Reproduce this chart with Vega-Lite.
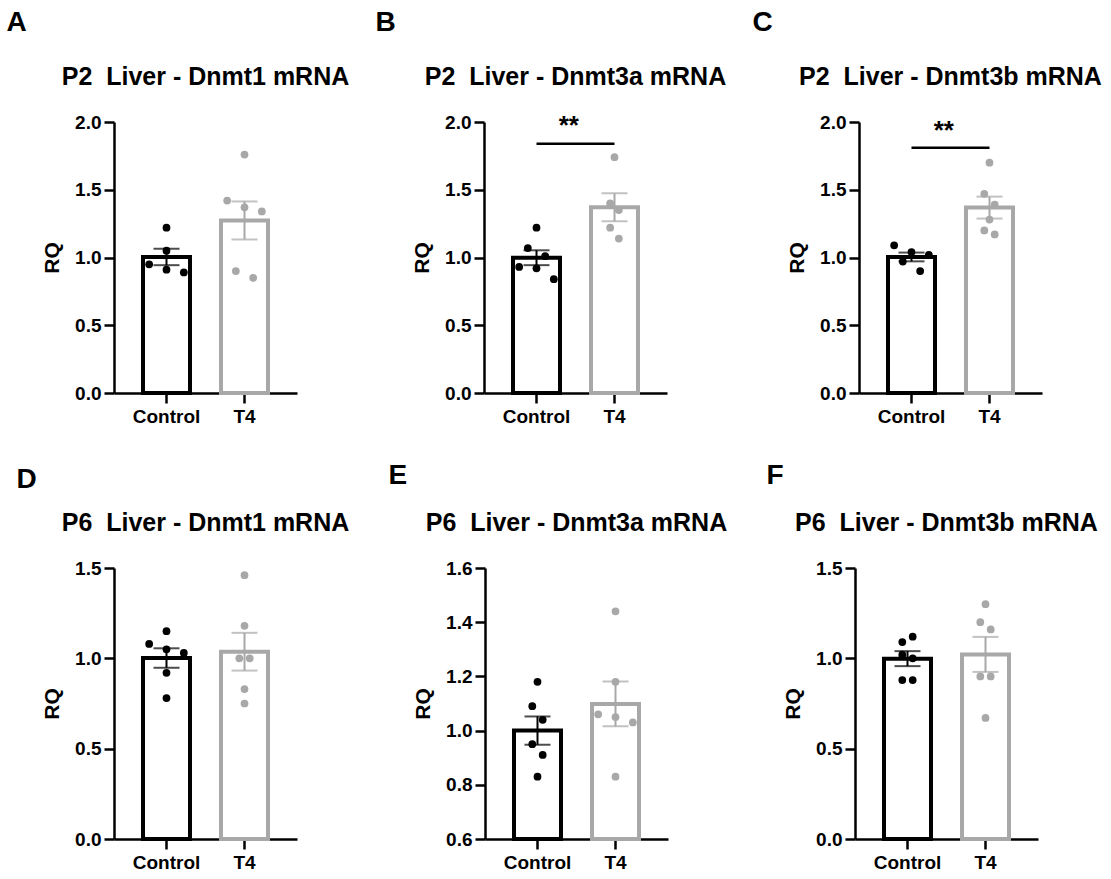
{
  "$schema": "https://vega.github.io/schema/vega-lite/v6.json",
  "background": "white",
  "padding": {"left": 6, "top": 8, "right": 2, "bottom": 2},
  "config": {
    "font": "Liberation Sans",
    "view": {"stroke": null},
    "title": {"font": "Liberation Sans", "fontSize": 25, "fontWeight": "bold", "color": "black", "offset": 23},
    "axis": {"domainColor": "black", "domainWidth": 2.5, "tickColor": "black", "tickWidth": 2.5, "tickSize": 10, "labelFont": "Liberation Sans", "labelFontSize": 19, "labelFontWeight": "bold", "labelColor": "black", "titleFont": "Liberation Sans", "titleFontSize": 21, "titleFontWeight": "bold", "titleColor": "black", "grid": false},
    "axisX": {"labelAngle": 0, "labelPadding": 4},
    "axisY": {"labelPadding": 3, "titlePadding": 12}
  },
  "vconcat": [
    {
      "hconcat": [
        {
          "title": {"text": "A", "anchor": "start", "frame": "bounds", "fontSize": 28, "dx": -35, "offset": 28},
          "vconcat": [{
            "title": {"text": "P2\u00a0 Liver - Dnmt1 mRNA"},
            "width": 183, "height": 271,
            "data": {"name": "a"},
            "resolve": {"scale": {"x": "independent", "xOffset": "independent"}},
            "layer": [
              {"mark": {"type": "bar", "fill": "white", "strokeWidth": 4, "width": 47},
               "encoding": {"x": {"field": "group", "type": "nominal", "title": null, "scale": {"domain": ["Control", "T4"], "paddingInner": 0.4, "paddingOuter": 0.373}},
                            "y": {"aggregate": "mean", "field": "v", "type": "quantitative", "title": "RQ", "scale": {"domain": [0, 2], "nice": false}, "axis": {"values": [0, 0.5, 1, 1.5, 2], "format": ".1f"}},
                            "stroke": {"field": "group", "type": "nominal", "scale": {"domain": ["Control", "T4"], "range": ["#000000", "#a8a8a8"]}, "legend": null}}},
              {"mark": {"type": "errorbar", "extent": "stderr", "thickness": 2, "ticks": {"size": 26}},
               "encoding": {"x": {"field": "group", "type": "nominal", "axis": null, "scale": {"domain": ["Control", "T4"], "paddingInner": 0.4, "paddingOuter": 0.373}},
                            "y": {"field": "v", "type": "quantitative", "title": "RQ"},
                            "color": {"field": "group", "type": "nominal", "scale": {"domain": ["Control", "T4"], "range": ["#000000", "#a8a8a8"]}, "legend": null}}},
              {"mark": {"type": "circle", "size": 60, "opacity": 1},
               "encoding": {"x": {"field": "group", "type": "nominal", "axis": null, "scale": {"domain": ["Control", "T4"], "paddingInner": 0.4, "paddingOuter": 0.373}},
                            "xOffset": {"field": "slot", "type": "quantitative", "scale": {"domain": [-3, 3], "range": [-2.6, 49.4]}},
                            "y": {"field": "v", "type": "quantitative", "title": "RQ"},
                            "color": {"field": "group", "type": "nominal", "scale": {"domain": ["Control", "T4"], "range": ["#000000", "#a8a8a8"]}, "legend": null}}}
            ]
          }]
        },
        {
          "title": {"text": "B", "anchor": "start", "frame": "bounds", "fontSize": 28, "dx": -36, "offset": 28},
          "vconcat": [{
            "title": {"text": "P2\u00a0 Liver - Dnmt3a mRNA"},
            "width": 183, "height": 271,
            "data": {"name": "b"},
            "resolve": {"scale": {"x": "independent", "xOffset": "independent"}},
            "layer": [
              {"mark": {"type": "bar", "fill": "white", "strokeWidth": 4, "width": 47},
               "encoding": {"x": {"field": "group", "type": "nominal", "title": null, "scale": {"domain": ["Control", "T4"], "paddingInner": 0.4, "paddingOuter": 0.373}},
                            "y": {"aggregate": "mean", "field": "v", "type": "quantitative", "title": "RQ", "scale": {"domain": [0, 2], "nice": false}, "axis": {"values": [0, 0.5, 1, 1.5, 2], "format": ".1f"}},
                            "stroke": {"field": "group", "type": "nominal", "scale": {"domain": ["Control", "T4"], "range": ["#000000", "#a8a8a8"]}, "legend": null}}},
              {"mark": {"type": "errorbar", "extent": "stderr", "thickness": 2, "ticks": {"size": 26}},
               "encoding": {"x": {"field": "group", "type": "nominal", "axis": null, "scale": {"domain": ["Control", "T4"], "paddingInner": 0.4, "paddingOuter": 0.373}},
                            "y": {"field": "v", "type": "quantitative", "title": "RQ"},
                            "color": {"field": "group", "type": "nominal", "scale": {"domain": ["Control", "T4"], "range": ["#000000", "#a8a8a8"]}, "legend": null}}},
              {"mark": {"type": "circle", "size": 60, "opacity": 1},
               "encoding": {"x": {"field": "group", "type": "nominal", "axis": null, "scale": {"domain": ["Control", "T4"], "paddingInner": 0.4, "paddingOuter": 0.373}},
                            "xOffset": {"field": "slot", "type": "quantitative", "scale": {"domain": [-3, 3], "range": [-2.6, 49.4]}},
                            "y": {"field": "v", "type": "quantitative", "title": "RQ"},
                            "color": {"field": "group", "type": "nominal", "scale": {"domain": ["Control", "T4"], "range": ["#000000", "#a8a8a8"]}, "legend": null}}},
              {"data": {"values": [{"a": "Control", "b": "T4", "y": 1.84, "label": "**"}]},
               "mark": {"type": "rule", "color": "black", "strokeWidth": 2.5},
               "encoding": {"x": {"field": "a", "type": "nominal", "axis": null, "scale": {"domain": ["Control", "T4"], "paddingInner": 0.4, "paddingOuter": 0.373}}, "x2": {"field": "b"}, "y": {"field": "y", "type": "quantitative", "title": "RQ"}}},
              {"data": {"values": [{"a": "Control", "b": "T4", "y": 1.84, "label": "**"}]},
               "mark": {"type": "text", "color": "black", "fontSize": 26, "fontWeight": "bold", "align": "center", "baseline": "alphabetic", "dx": 39, "dy": -10},
               "encoding": {"x": {"field": "a", "type": "nominal", "axis": null, "scale": {"domain": ["Control", "T4"], "paddingInner": 0.4, "paddingOuter": 0.373}}, "y": {"field": "y", "type": "quantitative", "title": "RQ"}, "text": {"field": "label"}}}
            ]
          }]
        },
        {
          "title": {"text": "C", "anchor": "start", "frame": "bounds", "fontSize": 28, "dx": -34, "offset": 28},
          "vconcat": [{
            "title": {"text": "P2\u00a0 Liver - Dnmt3b mRNA"},
            "width": 183, "height": 271,
            "data": {"name": "c"},
            "resolve": {"scale": {"x": "independent", "xOffset": "independent"}},
            "layer": [
              {"mark": {"type": "bar", "fill": "white", "strokeWidth": 4, "width": 47},
               "encoding": {"x": {"field": "group", "type": "nominal", "title": null, "scale": {"domain": ["Control", "T4"], "paddingInner": 0.4, "paddingOuter": 0.373}},
                            "y": {"aggregate": "mean", "field": "v", "type": "quantitative", "title": "RQ", "scale": {"domain": [0, 2], "nice": false}, "axis": {"values": [0, 0.5, 1, 1.5, 2], "format": ".1f"}},
                            "stroke": {"field": "group", "type": "nominal", "scale": {"domain": ["Control", "T4"], "range": ["#000000", "#a8a8a8"]}, "legend": null}}},
              {"mark": {"type": "errorbar", "extent": "stderr", "thickness": 2, "ticks": {"size": 26}},
               "encoding": {"x": {"field": "group", "type": "nominal", "axis": null, "scale": {"domain": ["Control", "T4"], "paddingInner": 0.4, "paddingOuter": 0.373}},
                            "y": {"field": "v", "type": "quantitative", "title": "RQ"},
                            "color": {"field": "group", "type": "nominal", "scale": {"domain": ["Control", "T4"], "range": ["#000000", "#a8a8a8"]}, "legend": null}}},
              {"mark": {"type": "circle", "size": 60, "opacity": 1},
               "encoding": {"x": {"field": "group", "type": "nominal", "axis": null, "scale": {"domain": ["Control", "T4"], "paddingInner": 0.4, "paddingOuter": 0.373}},
                            "xOffset": {"field": "slot", "type": "quantitative", "scale": {"domain": [-3, 3], "range": [-2.6, 49.4]}},
                            "y": {"field": "v", "type": "quantitative", "title": "RQ"},
                            "color": {"field": "group", "type": "nominal", "scale": {"domain": ["Control", "T4"], "range": ["#000000", "#a8a8a8"]}, "legend": null}}},
              {"data": {"values": [{"a": "Control", "b": "T4", "y": 1.81, "label": "**"}]},
               "mark": {"type": "rule", "color": "black", "strokeWidth": 2.5},
               "encoding": {"x": {"field": "a", "type": "nominal", "axis": null, "scale": {"domain": ["Control", "T4"], "paddingInner": 0.4, "paddingOuter": 0.373}}, "x2": {"field": "b"}, "y": {"field": "y", "type": "quantitative", "title": "RQ"}}},
              {"data": {"values": [{"a": "Control", "b": "T4", "y": 1.81, "label": "**"}]},
               "mark": {"type": "text", "color": "black", "fontSize": 26, "fontWeight": "bold", "align": "center", "baseline": "alphabetic", "dx": 39, "dy": -9},
               "encoding": {"x": {"field": "a", "type": "nominal", "axis": null, "scale": {"domain": ["Control", "T4"], "paddingInner": 0.4, "paddingOuter": 0.373}}, "y": {"field": "y", "type": "quantitative", "title": "RQ"}, "text": {"field": "label"}}}
            ]
          }]
        }
      ],
      "spacing": 25
    },
    {
      "hconcat": [
        {
          "title": {"text": "D", "anchor": "start", "frame": "bounds", "fontSize": 28, "dx": -25, "offset": 17},
          "vconcat": [{
            "title": {"text": "P6\u00a0 Liver - Dnmt1 mRNA"},
            "width": 183, "height": 271,
            "data": {"name": "d"},
            "resolve": {"scale": {"x": "independent", "xOffset": "independent"}},
            "layer": [
              {"mark": {"type": "bar", "fill": "white", "strokeWidth": 4, "width": 47},
               "encoding": {"x": {"field": "group", "type": "nominal", "title": null, "scale": {"domain": ["Control", "T4"], "paddingInner": 0.4, "paddingOuter": 0.373}},
                            "y": {"aggregate": "mean", "field": "v", "type": "quantitative", "title": "RQ", "scale": {"domain": [0, 1.5], "nice": false}, "axis": {"values": [0, 0.5, 1, 1.5], "format": ".1f"}},
                            "stroke": {"field": "group", "type": "nominal", "scale": {"domain": ["Control", "T4"], "range": ["#000000", "#a8a8a8"]}, "legend": null}}},
              {"mark": {"type": "errorbar", "extent": "stderr", "thickness": 2, "ticks": {"size": 26}},
               "encoding": {"x": {"field": "group", "type": "nominal", "axis": null, "scale": {"domain": ["Control", "T4"], "paddingInner": 0.4, "paddingOuter": 0.373}},
                            "y": {"field": "v", "type": "quantitative", "title": "RQ"},
                            "color": {"field": "group", "type": "nominal", "scale": {"domain": ["Control", "T4"], "range": ["#000000", "#a8a8a8"]}, "legend": null}}},
              {"mark": {"type": "circle", "size": 60, "opacity": 1},
               "encoding": {"x": {"field": "group", "type": "nominal", "axis": null, "scale": {"domain": ["Control", "T4"], "paddingInner": 0.4, "paddingOuter": 0.373}},
                            "xOffset": {"field": "slot", "type": "quantitative", "scale": {"domain": [-3, 3], "range": [-2.6, 49.4]}},
                            "y": {"field": "v", "type": "quantitative", "title": "RQ"},
                            "color": {"field": "group", "type": "nominal", "scale": {"domain": ["Control", "T4"], "range": ["#000000", "#a8a8a8"]}, "legend": null}}}
            ]
          }]
        },
        {
          "title": {"text": "E", "anchor": "start", "frame": "bounds", "fontSize": 28, "dx": -24, "offset": 21},
          "vconcat": [{
            "title": {"text": "P6\u00a0 Liver - Dnmt3a mRNA"},
            "width": 183, "height": 271,
            "data": {"name": "e"},
            "resolve": {"scale": {"x": "independent", "xOffset": "independent"}},
            "layer": [
              {"mark": {"type": "bar", "fill": "white", "strokeWidth": 4, "width": 47},
               "encoding": {"x": {"field": "group", "type": "nominal", "title": null, "scale": {"domain": ["Control", "T4"], "paddingInner": 0.4, "paddingOuter": 0.373}},
                            "y": {"aggregate": "mean", "field": "v", "type": "quantitative", "title": "RQ", "scale": {"domain": [0.6, 1.6], "zero": false, "nice": false}, "axis": {"values": [0.6, 0.8, 1.0, 1.2, 1.4, 1.6], "format": ".1f"}},
                            "y2": {"datum": 0.6},
                            "stroke": {"field": "group", "type": "nominal", "scale": {"domain": ["Control", "T4"], "range": ["#000000", "#a8a8a8"]}, "legend": null}}},
              {"mark": {"type": "errorbar", "extent": "stderr", "thickness": 2, "ticks": {"size": 26}},
               "encoding": {"x": {"field": "group", "type": "nominal", "axis": null, "scale": {"domain": ["Control", "T4"], "paddingInner": 0.4, "paddingOuter": 0.373}},
                            "y": {"field": "v", "type": "quantitative", "title": "RQ"},
                            "color": {"field": "group", "type": "nominal", "scale": {"domain": ["Control", "T4"], "range": ["#000000", "#a8a8a8"]}, "legend": null}}},
              {"mark": {"type": "circle", "size": 60, "opacity": 1},
               "encoding": {"x": {"field": "group", "type": "nominal", "axis": null, "scale": {"domain": ["Control", "T4"], "paddingInner": 0.4, "paddingOuter": 0.373}},
                            "xOffset": {"field": "slot", "type": "quantitative", "scale": {"domain": [-3, 3], "range": [-2.6, 49.4]}},
                            "y": {"field": "v", "type": "quantitative", "title": "RQ"},
                            "color": {"field": "group", "type": "nominal", "scale": {"domain": ["Control", "T4"], "range": ["#000000", "#a8a8a8"]}, "legend": null}}}
            ]
          }]
        },
        {
          "title": {"text": "F", "anchor": "start", "frame": "bounds", "fontSize": 28, "dx": -16, "offset": 21},
          "vconcat": [{
            "title": {"text": "P6\u00a0 Liver - Dnmt3b mRNA"},
            "width": 183, "height": 271,
            "data": {"name": "f"},
            "resolve": {"scale": {"x": "independent", "xOffset": "independent"}},
            "layer": [
              {"mark": {"type": "bar", "fill": "white", "strokeWidth": 4, "width": 47},
               "encoding": {"x": {"field": "group", "type": "nominal", "title": null, "scale": {"domain": ["Control", "T4"], "paddingInner": 0.4, "paddingOuter": 0.373}},
                            "y": {"aggregate": "mean", "field": "v", "type": "quantitative", "title": "RQ", "scale": {"domain": [0, 1.5], "nice": false}, "axis": {"values": [0, 0.5, 1, 1.5], "format": ".1f"}},
                            "stroke": {"field": "group", "type": "nominal", "scale": {"domain": ["Control", "T4"], "range": ["#000000", "#a8a8a8"]}, "legend": null}}},
              {"mark": {"type": "errorbar", "extent": "stderr", "thickness": 2, "ticks": {"size": 26}},
               "encoding": {"x": {"field": "group", "type": "nominal", "axis": null, "scale": {"domain": ["Control", "T4"], "paddingInner": 0.4, "paddingOuter": 0.373}},
                            "y": {"field": "v", "type": "quantitative", "title": "RQ"},
                            "color": {"field": "group", "type": "nominal", "scale": {"domain": ["Control", "T4"], "range": ["#000000", "#a8a8a8"]}, "legend": null}}},
              {"mark": {"type": "circle", "size": 60, "opacity": 1},
               "encoding": {"x": {"field": "group", "type": "nominal", "axis": null, "scale": {"domain": ["Control", "T4"], "paddingInner": 0.4, "paddingOuter": 0.373}},
                            "xOffset": {"field": "slot", "type": "quantitative", "scale": {"domain": [-3, 3], "range": [-2.6, 49.4]}},
                            "y": {"field": "v", "type": "quantitative", "title": "RQ"},
                            "color": {"field": "group", "type": "nominal", "scale": {"domain": ["Control", "T4"], "range": ["#000000", "#a8a8a8"]}, "legend": null}}}
            ]
          }]
        }
      ],
      "spacing": 38
    }
  ],
  "spacing": 36,
  "datasets": {
    "a": [
      {"group": "Control", "slot": 0, "v": 1.22}, {"group": "Control", "slot": 0, "v": 1.05}, {"group": "Control", "slot": -2, "v": 0.95}, {"group": "Control", "slot": 0, "v": 0.91}, {"group": "Control", "slot": 2, "v": 0.89},
      {"group": "T4", "slot": 0, "v": 1.76}, {"group": "T4", "slot": -2, "v": 1.42}, {"group": "T4", "slot": 0, "v": 1.37}, {"group": "T4", "slot": 2, "v": 1.34}, {"group": "T4", "slot": -1, "v": 0.90}, {"group": "T4", "slot": 1, "v": 0.85}
    ],
    "b": [
      {"group": "Control", "slot": 0, "v": 1.22}, {"group": "Control", "slot": -1, "v": 1.07}, {"group": "Control", "slot": 1, "v": 1.01}, {"group": "Control", "slot": -2, "v": 0.93}, {"group": "Control", "slot": 0, "v": 0.92}, {"group": "Control", "slot": 2, "v": 0.84},
      {"group": "T4", "slot": 0, "v": 1.74}, {"group": "T4", "slot": -0.5, "v": 1.40}, {"group": "T4", "slot": 0.5, "v": 1.35}, {"group": "T4", "slot": -0.5, "v": 1.22}, {"group": "T4", "slot": 0.5, "v": 1.14}
    ],
    "c": [
      {"group": "Control", "slot": -2, "v": 1.09}, {"group": "Control", "slot": 0, "v": 1.04}, {"group": "Control", "slot": 2, "v": 1.02}, {"group": "Control", "slot": -1, "v": 0.97}, {"group": "Control", "slot": 1, "v": 0.90},
      {"group": "T4", "slot": 0, "v": 1.70}, {"group": "T4", "slot": -0.6, "v": 1.47}, {"group": "T4", "slot": 0.6, "v": 1.39}, {"group": "T4", "slot": 0, "v": 1.28}, {"group": "T4", "slot": -0.6, "v": 1.20}, {"group": "T4", "slot": 0.6, "v": 1.17}
    ],
    "d": [
      {"group": "Control", "slot": 0, "v": 1.15}, {"group": "Control", "slot": -2, "v": 1.08}, {"group": "Control", "slot": 0, "v": 1.05}, {"group": "Control", "slot": 2, "v": 1.03}, {"group": "Control", "slot": 0, "v": 0.92}, {"group": "Control", "slot": 0, "v": 0.78},
      {"group": "T4", "slot": 0, "v": 1.46}, {"group": "T4", "slot": 0, "v": 1.18}, {"group": "T4", "slot": -0.6, "v": 1.00}, {"group": "T4", "slot": 0.6, "v": 1.00}, {"group": "T4", "slot": 0, "v": 0.83}, {"group": "T4", "slot": 0, "v": 0.75}
    ],
    "e": [
      {"group": "Control", "slot": 0, "v": 1.18}, {"group": "Control", "slot": -0.6, "v": 1.09}, {"group": "Control", "slot": 0.6, "v": 1.04}, {"group": "Control", "slot": -0.6, "v": 0.95}, {"group": "Control", "slot": 0.6, "v": 0.91}, {"group": "Control", "slot": 0, "v": 0.83},
      {"group": "T4", "slot": 0, "v": 1.44}, {"group": "T4", "slot": 0, "v": 1.18}, {"group": "T4", "slot": -2, "v": 1.06}, {"group": "T4", "slot": 0, "v": 1.05}, {"group": "T4", "slot": 2, "v": 1.03}, {"group": "T4", "slot": 0, "v": 0.83}
    ],
    "f": [
      {"group": "Control", "slot": -0.6, "v": 1.09}, {"group": "Control", "slot": 0.6, "v": 1.12}, {"group": "Control", "slot": -0.6, "v": 1.02}, {"group": "Control", "slot": 0.6, "v": 1.00}, {"group": "Control", "slot": -0.6, "v": 0.88}, {"group": "Control", "slot": 0.6, "v": 0.88},
      {"group": "T4", "slot": 0, "v": 1.30}, {"group": "T4", "slot": -0.6, "v": 1.20}, {"group": "T4", "slot": 0.6, "v": 1.16}, {"group": "T4", "slot": -0.6, "v": 0.90}, {"group": "T4", "slot": 0.6, "v": 0.90}, {"group": "T4", "slot": 0, "v": 0.67}
    ]
  }
}
